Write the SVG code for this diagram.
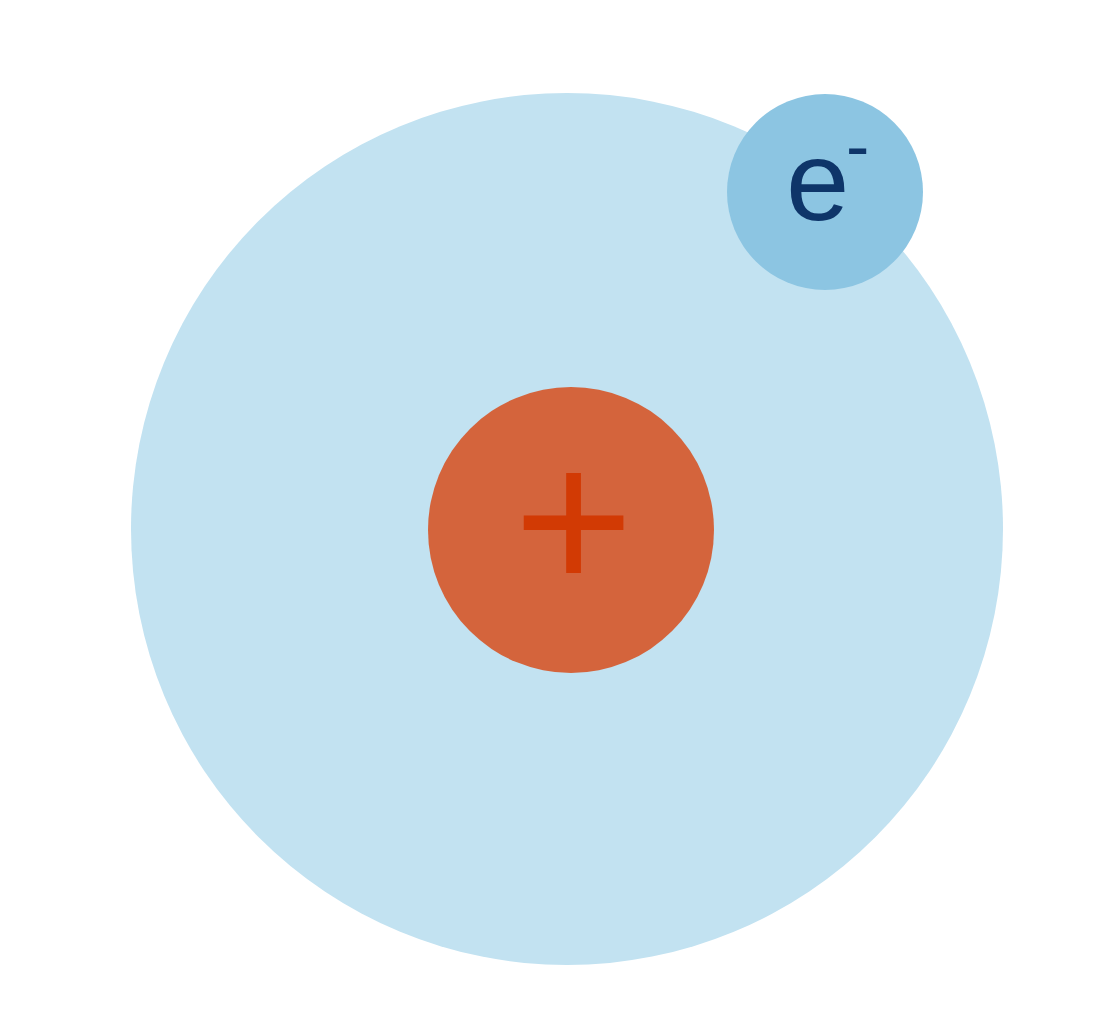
<svg xmlns="http://www.w3.org/2000/svg" width="1093" height="1026" viewBox="0 0 1093 1026">
<style>
text { font-family: "Liberation Sans", Arial, sans-serif; }
.orbit { fill: #c2e2f1; }
.nucleus { fill: #d4643c; }
.electron { fill: #8cc5e2; }
.plus { fill: #d23a04; font-size: 205px; }
.e { fill: #0e3569; font-size: 114px; }
</style>
<rect width="1093" height="1026" fill="#ffffff"/>
<g id="orbit"><circle class="orbit" cx="567" cy="529" r="436"/></g>
<g id="nucleus">
<circle class="nucleus" cx="571" cy="530" r="143"/>
<text class="plus" x="573.5" y="591" text-anchor="middle">+</text>
</g>
<g id="electron">
<circle class="electron" cx="825" cy="192" r="98"/>
<text class="e" x="786" y="219.5">e<tspan x="846" y="169.5" style="font-size:70px">-</tspan></text>
</g>
<g id="connectors"></g>
</svg>
